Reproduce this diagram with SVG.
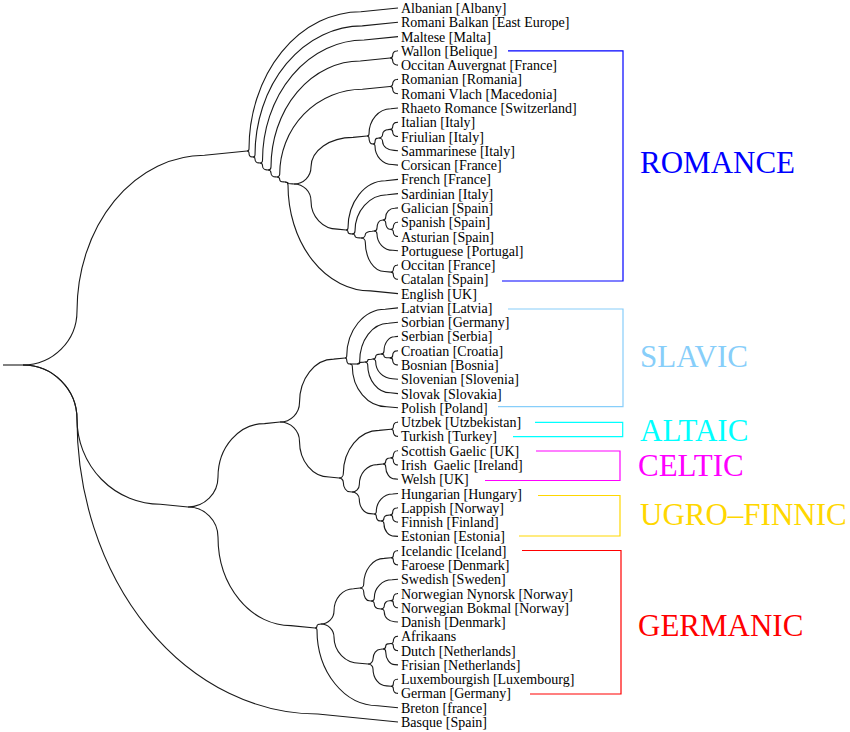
<svg xmlns="http://www.w3.org/2000/svg" width="850" height="732" viewBox="0 0 850 732">
<style>
.e{fill:none;stroke:#1a1a1a;stroke-width:1.1}
.t{font-family:"Liberation Serif","Times New Roman",serif;font-size:14px;fill:#000;white-space:pre}
.g{font-family:"Liberation Serif","Times New Roman",serif;font-size:31px}
.b{fill:none;stroke-width:1.2}
</style>
<rect width="850" height="732" fill="#fff"/>
<g id="connectors">
<path class="e" d="M3,365H23"/>
<path class="e" d="M23,365A54,54 0 0 0 77,311A127.5,155.8 0 0 1 204.5,155.3L247,151"/>
<path class="e" d="M23,365A54,54 0 0 1 77,419A83.3,85.2 0 0 0 160.3,504.2L188,507"/>
<path class="e" d="M23,365A54,54 0 0 1 77,419A240.8,295 0 0 0 317.8,714L398,722"/>
<path class="e" d="M247,151A2,2 0 0 0 249,149A111.8,137.3 0 0 1 360.8,11.7L398,8"/>
<path class="e" d="M247,151A2,2 0 0 1 249,153A3,3.9 0 0 0 252,156.9L253,157"/>
<path class="e" d="M253,157A2,2 0 0 0 255,155A107.3,129.1 0 0 1 362.3,25.9L398,22.3"/>
<path class="e" d="M253,157A2,2 0 0 1 255,159A3.8,3.9 0 0 0 258.8,162.9L260,163"/>
<path class="e" d="M260,163A2.5,2.5 0 0 0 262.5,160.5A101.6,120.5 0 0 1 364.1,40L398,36.6"/>
<path class="e" d="M260,163A2.5,2.5 0 0 1 262.5,165.5A4.1,4.4 0 0 0 266.6,169.9L268,170"/>
<path class="e" d="M268,170A3,3 0 0 0 271,167A89.3,106 0 0 1 360.3,61L390,57.95"/>
<path class="e" d="M268,170A3,3 0 0 1 271,173A4.5,3.9 0 0 0 275.5,176.9L277,177"/>
<path class="e" d="M390,57.95A2.7,2.7 0 0 0 392.7,55.25A4,4.3 0 0 1 396.7,50.93L398,50.8"/>
<path class="e" d="M390,57.95A2.7,2.7 0 0 1 392.7,60.65A4,4.3 0 0 0 396.7,64.97L398,65.1"/>
<path class="e" d="M277,177A2.7,2.7 0 0 0 279.7,174.3A82.7,85 0 0 1 362.4,89.3L390,86.55"/>
<path class="e" d="M277,177A2.7,2.5 0 0 1 279.7,179.5A4,2.4 0 0 0 283.7,181.9L285,182"/>
<path class="e" d="M390,86.55A2.7,2.7 0 0 0 392.7,83.85A4,4.3 0 0 1 396.7,79.53L398,79.4"/>
<path class="e" d="M390,86.55A2.7,2.7 0 0 1 392.7,89.25A4,4.3 0 0 0 396.7,93.57L398,93.7"/>
<path class="e" d="M285,182A3,1 0 0 1 288,183A4.5,0.9 0 0 0 292.5,183.9L294,184"/>
<path class="e" d="M285,182A3,3 0 0 1 288,185A82.5,105.9 0 0 0 370.5,290.9L398,293.6"/>
<path class="e" d="M294,184A17,17 0 0 0 311,167A42,29.6 0 0 1 353,137.4L367,136"/>
<path class="e" d="M294,184A17,17 0 0 1 311,201A26.3,28.1 0 0 0 337.3,229.1L346,230"/>
<path class="e" d="M367,136A2,2 0 0 0 369,134A21.8,25.3 0 0 1 390.8,108.7L398,108"/>
<path class="e" d="M367,136A2,2 0 0 1 369,138A3,5.9 0 0 0 372,143.9L373,144"/>
<path class="e" d="M373,144A2,2 0 0 0 375,142A3,3.9 0 0 1 378,138.1L379,138"/>
<path class="e" d="M373,144A2,2 0 0 1 375,146A17.3,18.5 0 0 0 392.3,164.5L398,165.1"/>
<path class="e" d="M379,138A3.6,3.6 0 0 0 382.6,134.4A5.6,4.9 0 0 1 388.2,129.6L390,129.35"/>
<path class="e" d="M379,138A3.6,3.6 0 0 1 382.6,141.6A11.6,8.8 0 0 0 394.2,150.4L398,150.8"/>
<path class="e" d="M390,129.35A2.7,2.7 0 0 0 392.7,126.65A4,4.3 0 0 1 396.7,122.33L398,122.2"/>
<path class="e" d="M390,129.35A2.7,2.7 0 0 1 392.7,132.05A4,4.3 0 0 0 396.7,136.37L398,136.5"/>
<path class="e" d="M346,230A2,2 0 0 0 348,228A37.5,47.4 0 0 1 385.5,180.7L398,179.4"/>
<path class="e" d="M346,230A2,2 0 0 1 348,232A3,1.9 0 0 0 351,233.9L352,234"/>
<path class="e" d="M352,234A3,3 0 0 0 355,231A32.3,36.3 0 0 1 387.3,194.7L398,193.6"/>
<path class="e" d="M352,234A3,2 0 0 1 355,236A4.5,1.9 0 0 0 359.5,237.9L361,238"/>
<path class="e" d="M361,238A4.3,3.5 0 0 0 365.3,234.5A6.8,3.3 0 0 1 372.1,231.2L374,231"/>
<path class="e" d="M361,238A4.3,4.3 0 0 1 365.3,242.3A19.3,29.2 0 0 0 384.6,271.5L391,272.15"/>
<path class="e" d="M374,231A3,3 0 0 0 377,228A4.5,7.9 0 0 1 381.5,220.2L383,220"/>
<path class="e" d="M374,231A3,3 0 0 1 377,234A15.8,16.3 0 0 0 392.8,250.3L398,250.8"/>
<path class="e" d="M383,220A2.7,2.7 0 0 0 385.7,217.3A8.9,9.1 0 0 1 394.6,208.2L398,207.9"/>
<path class="e" d="M383,220A2.7,2.7 0 0 1 385.7,222.7A4,6.5 0 0 0 389.7,229.2L391,229.35"/>
<path class="e" d="M391,229.35A2.3,2.3 0 0 0 393.3,227.05A3.5,4.7 0 0 1 396.8,222.32L398,222.2"/>
<path class="e" d="M391,229.35A2.3,2.3 0 0 1 393.3,231.65A3.5,4.7 0 0 0 396.8,236.38L398,236.5"/>
<path class="e" d="M391,272.15A2.3,2.3 0 0 0 393.3,269.85A3.5,4.7 0 0 1 396.8,265.12L398,265"/>
<path class="e" d="M391,272.15A2.3,2.3 0 0 1 393.3,274.45A3.5,4.7 0 0 0 396.8,279.18L398,279.3"/>
<path class="e" d="M188,507A30,30 0 0 0 218,477A46.5,53.5 0 0 1 264.5,423.6L280,422"/>
<path class="e" d="M188,507A30,30 0 0 1 218,537A72.8,88.6 0 0 0 290.8,625.6L315,628"/>
<path class="e" d="M280,422A19.5,19.5 0 0 0 299.5,402.5A34.1,43.4 0 0 1 333.6,359.1L345,358"/>
<path class="e" d="M280,422A19.5,19.5 0 0 1 299.5,441.5A29.6,35.5 0 0 0 329.1,477L339,478"/>
<path class="e" d="M345,358A1.7,1.7 0 0 0 346.7,356.3A38.5,47.1 0 0 1 385.2,309.2L398,307.9"/>
<path class="e" d="M345,358A1.7,1.7 0 0 1 346.7,359.7A2.5,4.2 0 0 0 349.2,363.9L350,364"/>
<path class="e" d="M350,364L357,364"/>
<path class="e" d="M350,364A2.3,2.3 0 0 1 352.3,366.3A34.3,40.4 0 0 0 386.6,406.7L398,407.8"/>
<path class="e" d="M357,364A2.7,2.7 0 0 0 359.7,361.3A28.7,38.1 0 0 1 388.4,323.2L398,322.2"/>
<path class="e" d="M357,364A2.7,1 0 0 0 359.7,363A4,0.9 0 0 1 363.7,362.1L365,362"/>
<path class="e" d="M365,362A2.7,1.5 0 0 0 367.7,360.5A4,1.4 0 0 1 371.7,359.1L373,359"/>
<path class="e" d="M365,362A2.7,2.7 0 0 1 367.7,364.7A22.7,28.1 0 0 0 390.4,392.8L398,393.6"/>
<path class="e" d="M373,359A2.7,2.5 0 0 0 375.7,356.5A4,2.4 0 0 1 379.7,354.1L381,354"/>
<path class="e" d="M373,359A2.7,2.7 0 0 1 375.7,361.7A16.7,17 0 0 0 392.4,378.7L398,379.3"/>
<path class="e" d="M381,354A3,3 0 0 0 384,351A10.5,14.3 0 0 1 394.5,336.8L398,336.4"/>
<path class="e" d="M381,354A3,1.9 0 0 1 384,355.9A4.5,1.8 0 0 0 388.5,357.7L390,357.85"/>
<path class="e" d="M390,357.85A2.7,2.7 0 0 0 392.7,355.15A4,4.3 0 0 1 396.7,350.83L398,350.7"/>
<path class="e" d="M390,357.85A2.7,2.7 0 0 1 392.7,360.55A4,4.3 0 0 0 396.7,364.87L398,365"/>
<path class="e" d="M339,478A4.3,4.3 0 0 0 343.3,473.7A35.8,43.3 0 0 1 379.1,430.4L391,429.25"/>
<path class="e" d="M339,478A4.3,4.3 0 0 1 343.3,482.3A6.5,9.5 0 0 0 349.8,491.8L352,492"/>
<path class="e" d="M391,429.25A2.3,2.3 0 0 0 393.3,426.95A3.5,4.7 0 0 1 396.8,422.22L398,422.1"/>
<path class="e" d="M391,429.25A2.3,2.3 0 0 1 393.3,431.55A3.5,4.7 0 0 0 396.8,436.28L398,436.4"/>
<path class="e" d="M352,492A7.3,7.3 0 0 0 359.3,484.7A17.8,20.1 0 0 1 377.1,464.6L383,464"/>
<path class="e" d="M352,492A7.3,7.3 0 0 1 359.3,499.3A11,14.3 0 0 0 370.3,513.6L374,514"/>
<path class="e" d="M383,464A2.7,2.7 0 0 0 385.7,461.3A4,3.3 0 0 1 389.7,458L391,457.85"/>
<path class="e" d="M383,464A2.7,2.7 0 0 1 385.7,466.7A9.2,12.2 0 0 0 394.9,478.9L398,479.2"/>
<path class="e" d="M391,457.85A2.3,2.3 0 0 0 393.3,455.55A3.5,4.7 0 0 1 396.8,450.82L398,450.7"/>
<path class="e" d="M391,457.85A2.3,2.3 0 0 1 393.3,460.15A3.5,4.7 0 0 0 396.8,464.88L398,465"/>
<path class="e" d="M374,514A2.3,2.3 0 0 0 376.3,511.7A16.3,17.7 0 0 1 392.6,494L398,493.5"/>
<path class="e" d="M374,514A2.3,2.3 0 0 1 376.3,516.3A3.5,4.6 0 0 0 379.8,520.9L381,521"/>
<path class="e" d="M381,521A3,3 0 0 0 384,518A4.5,2.9 0 0 1 388.5,515.1L390,514.95"/>
<path class="e" d="M381,521A3,3 0 0 1 384,524A10.5,12.1 0 0 0 394.5,536.1L398,536.4"/>
<path class="e" d="M390,514.95A2.7,2.7 0 0 0 392.7,512.25A4,4.3 0 0 1 396.7,507.93L398,507.8"/>
<path class="e" d="M390,514.95A2.7,2.7 0 0 1 392.7,517.65A4,4.3 0 0 0 396.7,521.97L398,522.1"/>
<path class="e" d="M315,628A2,2 0 0 0 317,626A3,1.9 0 0 1 320,624.1L321,624"/>
<path class="e" d="M315,628A2,2 0 0 1 317,630A60.8,75.7 0 0 0 377.8,705.7L398,707.7"/>
<path class="e" d="M321,624A13,13 0 0 0 334,611A19.5,22.4 0 0 1 353.5,588.7L360,588"/>
<path class="e" d="M321,624A13,13 0 0 1 334,637A25.5,26.2 0 0 0 359.5,663.2L368,664"/>
<path class="e" d="M360,588A3.7,3.7 0 0 0 363.7,584.3A20.5,25.9 0 0 1 384.2,558.4L391,557.75"/>
<path class="e" d="M360,588A3.7,3.7 0 0 1 363.7,591.7A5.5,9.1 0 0 0 369.2,600.8L371,601"/>
<path class="e" d="M391,557.75A2.3,2.3 0 0 0 393.3,555.45A3.5,4.7 0 0 1 396.8,550.72L398,550.6"/>
<path class="e" d="M391,557.75A2.3,2.3 0 0 1 393.3,560.05A3.5,4.7 0 0 0 396.8,564.78L398,564.9"/>
<path class="e" d="M371,601A3.3,3.3 0 0 0 374.3,597.7A17.8,17.9 0 0 1 392.1,579.8L398,579.2"/>
<path class="e" d="M371,601A3.3,3.3 0 0 1 374.3,604.3A5,4.5 0 0 0 379.3,608.8L381,609"/>
<path class="e" d="M381,609A3.3,3.3 0 0 0 384.3,605.7A5,4.9 0 0 1 389.3,600.8L391,600.65"/>
<path class="e" d="M381,609A3.3,3.3 0 0 1 384.3,612.3A10.3,9.4 0 0 0 394.6,621.7L398,622"/>
<path class="e" d="M391,600.65A2.3,2.3 0 0 0 393.3,598.35A3.5,4.7 0 0 1 396.8,593.62L398,593.5"/>
<path class="e" d="M391,600.65A2.3,2.3 0 0 1 393.3,602.95A3.5,4.7 0 0 0 396.8,607.68L398,607.8"/>
<path class="e" d="M368,664A5,5 0 0 0 373,659A7.5,9.8 0 0 1 380.5,649.3L383,649"/>
<path class="e" d="M368,664A5,5 0 0 1 373,669A13.5,16.9 0 0 0 386.5,685.9L391,686.3"/>
<path class="e" d="M383,649A2.7,2.7 0 0 0 385.7,646.3A4,2.7 0 0 1 389.7,643.6L391,643.45"/>
<path class="e" d="M383,649A2.7,2.7 0 0 1 385.7,651.7A9.2,12.9 0 0 0 394.9,664.6L398,664.9"/>
<path class="e" d="M391,643.45A2.3,2.3 0 0 0 393.3,641.15A3.5,4.7 0 0 1 396.8,636.42L398,636.3"/>
<path class="e" d="M391,643.45A2.3,2.3 0 0 1 393.3,645.75A3.5,4.7 0 0 0 396.8,650.48L398,650.6"/>
<path class="e" d="M391,686.3A2.3,2.3 0 0 0 393.3,684A3.5,4.7 0 0 1 396.8,679.32L398,679.2"/>
<path class="e" d="M391,686.3A2.3,2.3 0 0 1 393.3,688.6A3.5,4.7 0 0 0 396.8,693.28L398,693.4"/>
</g>
<g id="leaves">
<g id="n-albanian"><text class="t" x="401" y="13">Albanian [Albany]</text></g>
<g id="n-romani-balkan"><text class="t" x="401" y="27.3">Romani Balkan [East Europe]</text></g>
<g id="n-maltese"><text class="t" x="401" y="41.6">Maltese [Malta]</text></g>
<g id="n-wallon"><text class="t" x="401" y="55.8">Wallon [Belique]</text></g>
<g id="n-occitan-auvergnat"><text class="t" x="401" y="70.1">Occitan Auvergnat [France]</text></g>
<g id="n-romanian"><text class="t" x="401" y="84.4">Romanian [Romania]</text></g>
<g id="n-romani-vlach"><text class="t" x="401" y="98.7">Romani Vlach [Macedonia]</text></g>
<g id="n-rhaeto"><text class="t" x="401" y="113">Rhaeto Romance [Switzerland]</text></g>
<g id="n-italian"><text class="t" x="401" y="127.2">Italian [Italy]</text></g>
<g id="n-friulian"><text class="t" x="401" y="141.5">Friulian [Italy]</text></g>
<g id="n-sammarinese"><text class="t" x="401" y="155.8">Sammarinese [Italy]</text></g>
<g id="n-corsican"><text class="t" x="401" y="170.1">Corsican [France]</text></g>
<g id="n-french"><text class="t" x="401" y="184.4">French [France]</text></g>
<g id="n-sardinian"><text class="t" x="401" y="198.6">Sardinian [Italy]</text></g>
<g id="n-galician"><text class="t" x="401" y="212.9">Galician [Spain]</text></g>
<g id="n-spanish"><text class="t" x="401" y="227.2">Spanish [Spain]</text></g>
<g id="n-asturian"><text class="t" x="401" y="241.5">Asturian [Spain]</text></g>
<g id="n-portuguese"><text class="t" x="401" y="255.8">Portuguese [Portugal]</text></g>
<g id="n-occitan"><text class="t" x="401" y="270">Occitan [France]</text></g>
<g id="n-catalan"><text class="t" x="401" y="284.3">Catalan [Spain]</text></g>
<g id="n-english"><text class="t" x="401" y="298.6">English [UK]</text></g>
<g id="n-latvian"><text class="t" x="401" y="312.9">Latvian [Latvia]</text></g>
<g id="n-sorbian"><text class="t" x="401" y="327.2">Sorbian [Germany]</text></g>
<g id="n-serbian"><text class="t" x="401" y="341.4">Serbian [Serbia]</text></g>
<g id="n-croatian"><text class="t" x="401" y="355.7">Croatian [Croatia]</text></g>
<g id="n-bosnian"><text class="t" x="401" y="370">Bosnian [Bosnia]</text></g>
<g id="n-slovenian"><text class="t" x="401" y="384.3">Slovenian [Slovenia]</text></g>
<g id="n-slovak"><text class="t" x="401" y="398.6">Slovak [Slovakia]</text></g>
<g id="n-polish"><text class="t" x="401" y="412.8">Polish [Poland]</text></g>
<g id="n-utzbek"><text class="t" x="401" y="427.1">Utzbek [Utzbekistan]</text></g>
<g id="n-turkish"><text class="t" x="401" y="441.4">Turkish [Turkey]</text></g>
<g id="n-scottish"><text class="t" x="401" y="455.7">Scottish Gaelic [UK]</text></g>
<g id="n-irish"><text class="t" x="401" y="470">Irish  Gaelic [Ireland]</text></g>
<g id="n-welsh"><text class="t" x="401" y="484.2">Welsh [UK]</text></g>
<g id="n-hungarian"><text class="t" x="401" y="498.5">Hungarian [Hungary]</text></g>
<g id="n-lappish"><text class="t" x="401" y="512.8">Lappish [Norway]</text></g>
<g id="n-finnish"><text class="t" x="401" y="527.1">Finnish [Finland]</text></g>
<g id="n-estonian"><text class="t" x="401" y="541.4">Estonian [Estonia]</text></g>
<g id="n-icelandic"><text class="t" x="401" y="555.6">Icelandic [Iceland]</text></g>
<g id="n-faroese"><text class="t" x="401" y="569.9">Faroese [Denmark]</text></g>
<g id="n-swedish"><text class="t" x="401" y="584.2">Swedish [Sweden]</text></g>
<g id="n-nynorsk"><text class="t" x="401" y="598.5">Norwegian Nynorsk [Norway]</text></g>
<g id="n-bokmal"><text class="t" x="401" y="612.8">Norwegian Bokmal [Norway]</text></g>
<g id="n-danish"><text class="t" x="401" y="627">Danish [Denmark]</text></g>
<g id="n-afrikaans"><text class="t" x="401" y="641.3">Afrikaans</text></g>
<g id="n-dutch"><text class="t" x="401" y="655.6">Dutch [Netherlands]</text></g>
<g id="n-frisian"><text class="t" x="401" y="669.9">Frisian [Netherlands]</text></g>
<g id="n-luxembourgish"><text class="t" x="401" y="684.2">Luxembourgish [Luxembourg]</text></g>
<g id="n-german"><text class="t" x="401" y="698.4">German [Germany]</text></g>
<g id="n-breton"><text class="t" x="401" y="712.7">Breton [france]</text></g>
<g id="n-basque"><text class="t" x="401" y="727">Basque [Spain]</text></g>
</g>
<g id="group-romance"><path class="b" stroke="#0000ff" d="M508,50.8H623V281H502"/><text class="g" x="640" y="173" fill="#0000ff">ROMANCE</text></g>
<g id="group-slavic"><path class="b" stroke="#87cefa" d="M508,309H623V406.7H498"/><text class="g" x="640" y="367" fill="#87cefa">SLAVIC</text></g>
<g id="group-altaic"><path class="b" stroke="#00ffff" d="M535,422.3H622.7V436.7H513"/><text class="g" x="640" y="441" fill="#00ffff">ALTAIC</text></g>
<g id="group-celtic"><path class="b" stroke="#ff00ff" d="M536,451H620V480.5H485"/><text class="g" x="638" y="476" fill="#ff00ff">CELTIC</text></g>
<g id="group-ugro"><path class="b" stroke="#ffd700" d="M538,495.5H620V536H519"/><text class="g" x="640" y="524.5" fill="#ffd700">UGRO–FINNIC</text></g>
<g id="group-germanic"><path class="b" stroke="#ff0000" d="M522,550.5H621V694H530"/><text class="g" x="638" y="636" fill="#ff0000">GERMANIC</text></g>
</svg>
